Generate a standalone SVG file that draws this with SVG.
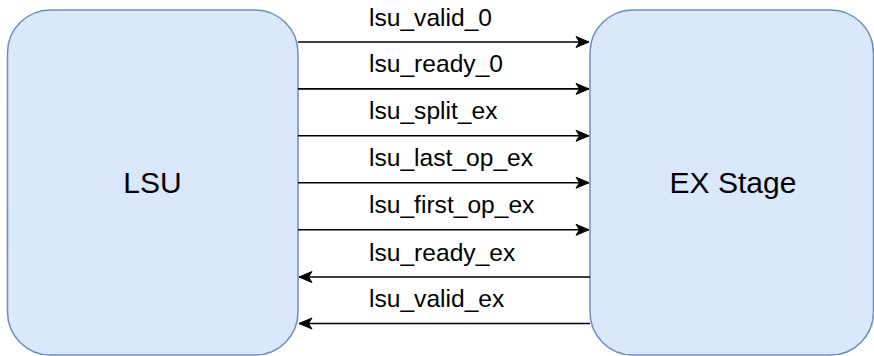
<svg xmlns="http://www.w3.org/2000/svg" width="874" height="356" viewBox="0 0 874 356">
  <style>
    .box { fill: #dae8fc; stroke: #6c8ebf; stroke-width: 1.5; }
    .title { font-family: "Liberation Sans", Arial, sans-serif; font-size: 30px; fill: #000; text-anchor: middle; }
    .sig { font-family: "Liberation Sans", Arial, sans-serif; font-size: 24.6px; fill: #000; }
    .wire { stroke: #000; stroke-width: 1.6; fill: none; }
  </style>
  <defs>
    <marker id="arrow" viewBox="-14 -7 16 14" refX="0" refY="0" markerWidth="16" markerHeight="14" markerUnits="userSpaceOnUse" orient="auto">
      <path d="M0,0 L-13,-5.5 L-9.5,0 L-13,5.5 Z" fill="#000" stroke="#000" stroke-width="1"/>
    </marker>
  </defs>

  <g id="lsu">
    <rect class="box" x="7.5" y="10" width="290.5" height="345" rx="43" ry="43"/>
    <text class="title" x="152.5" y="193">LSU</text>
  </g>

  <g id="ex-stage">
    <rect class="box" x="590" y="10" width="283.5" height="345" rx="43" ry="43"/>
    <text class="title" x="733" y="193">EX Stage</text>
  </g>

  <g id="connectors">
    <!-- LSU to EX Stage -->
    <path class="wire" d="M298,42 L589,42" marker-end="url(#arrow)"/>
    <path class="wire" d="M298,88.9 L589,88.9" marker-end="url(#arrow)"/>
    <path class="wire" d="M298,135.8 L589,135.8" marker-end="url(#arrow)"/>
    <path class="wire" d="M298,182.7 L589,182.7" marker-end="url(#arrow)"/>
    <path class="wire" d="M298,229.8 L589,229.8" marker-end="url(#arrow)"/>
    <!-- EX Stage to LSU -->
    <path class="wire" d="M590,277 L299,277" marker-end="url(#arrow)"/>
    <path class="wire" d="M590,323.5 L299,323.5" marker-end="url(#arrow)"/>

    <text class="sig" x="369" y="25.5">lsu_valid_0</text>
    <text class="sig" x="369" y="72.4">lsu_ready_0</text>
    <text class="sig" x="369" y="119.3">lsu_split_ex</text>
    <text class="sig" x="369" y="166.2">lsu_last_op_ex</text>
    <text class="sig" x="369" y="213">lsu_first_op_ex</text>
    <text class="sig" x="369" y="260.5">lsu_ready_ex</text>
    <text class="sig" x="369" y="307">lsu_valid_ex</text>
  </g>
</svg>
